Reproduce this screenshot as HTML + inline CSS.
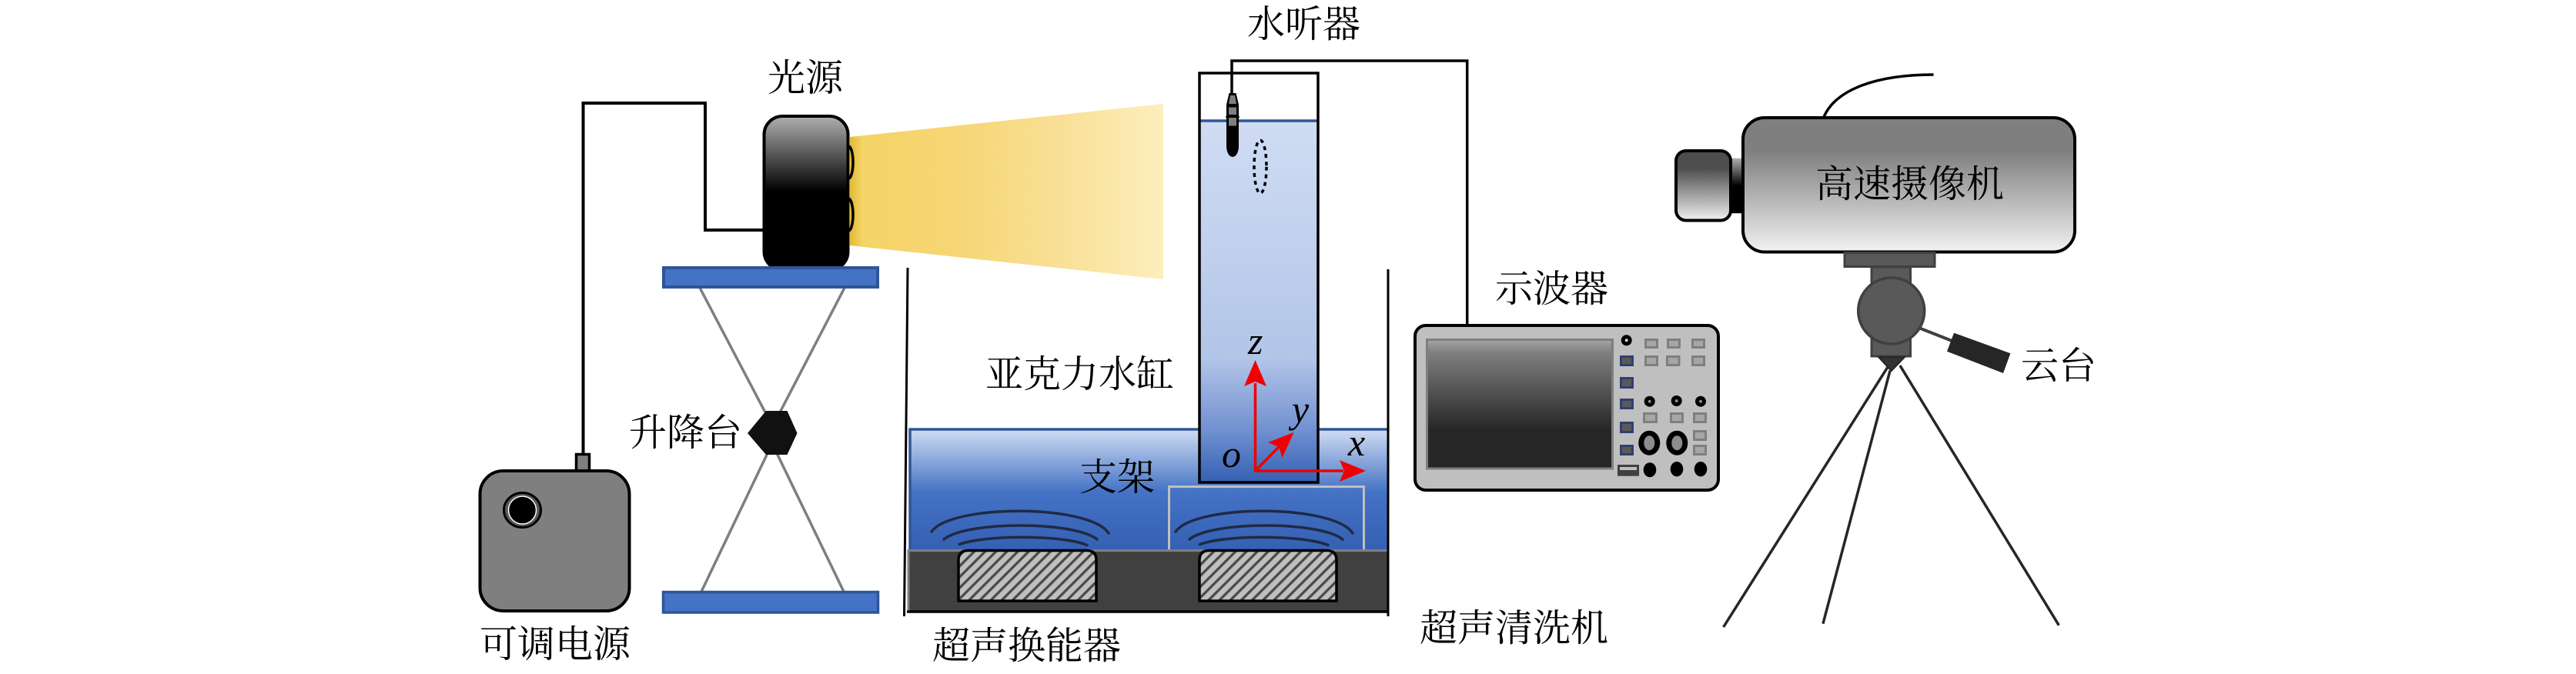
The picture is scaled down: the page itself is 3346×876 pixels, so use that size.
<!DOCTYPE html>
<html lang="zh"><head><meta charset="utf-8"><title>实验装置示意图</title>
<style>
html,body{margin:0;padding:0;background:#fff}
svg{display:block}
text{font-family:"Liberation Serif","Noto Serif CJK SC",serif;font-size:49px;fill:#000}
.m{font-style:italic;font-size:50px}
</style></head><body>
<svg width="3346" height="876" viewBox="0 0 3346 876" xmlns="http://www.w3.org/2000/svg">
<defs>
<linearGradient id="cone" x1="0" x2="1" y1="0" y2="0"><stop offset="0" stop-color="#e2b934"/><stop offset=".04" stop-color="#f5d468"/><stop offset=".35" stop-color="#f6d674"/><stop offset=".7" stop-color="#f9e19a"/><stop offset="1" stop-color="#fdeebc"/></linearGradient>
<linearGradient id="lamp" x1="0" x2="0" y1="0" y2="1"><stop offset="0" stop-color="#b0b0b0"/><stop offset=".49" stop-color="#000"/><stop offset="1" stop-color="#000"/></linearGradient>
<linearGradient id="water" x1="0" x2="0" y1="0" y2="1"><stop offset="0" stop-color="#d0dcf3"/><stop offset=".52" stop-color="#4472c4"/><stop offset="1" stop-color="#3560b3"/></linearGradient>
<linearGradient id="tube" x1="0" x2="0" y1="0" y2="1"><stop offset="0" stop-color="#d0dcf3"/><stop offset=".66" stop-color="#b2c5e8"/><stop offset=".86" stop-color="#6f8fd0"/><stop offset="1" stop-color="#3560b3"/></linearGradient>
<linearGradient id="screen" x1="0" x2="0" y1="0" y2="1"><stop offset="0" stop-color="#a6a6a6"/><stop offset=".1" stop-color="#7f7f7f"/><stop offset=".7" stop-color="#262626"/><stop offset="1" stop-color="#262626"/></linearGradient>
<linearGradient id="cam" x1="0" x2="0" y1="0" y2="1"><stop offset="0" stop-color="#7f7f7f"/><stop offset=".25" stop-color="#7f7f7f"/><stop offset="1" stop-color="#f2f2f2"/></linearGradient>
<linearGradient id="lens" x1="0" x2="0" y1="0" y2="1"><stop offset="0" stop-color="#4d4d4d"/><stop offset=".25" stop-color="#4d4d4d"/><stop offset="1" stop-color="#f0f0f0"/></linearGradient>
<linearGradient id="neck" x1="0" x2="0" y1="0" y2="1"><stop offset="0" stop-color="#b0b0b0"/><stop offset=".5" stop-color="#000"/><stop offset="1" stop-color="#000"/></linearGradient>
<pattern id="hatch" width="10" height="10" patternUnits="userSpaceOnUse" patternTransform="rotate(45)"><rect width="10" height="10" fill="#bfbfbf"/><rect width="3.3" height="10" fill="#4a4a4a"/></pattern>
</defs>

<!-- light cone -->
<polygon points="1104,178 1511,135 1511,363 1104,319" fill="url(#cone)"/>

<!-- power wire -->
<polyline points="757.5,590 757.5,134 916,134 916,299 992,299" fill="none" stroke="#000" stroke-width="4"/>

<!-- lamp -->
<ellipse cx="1102" cy="211" rx="6" ry="21" fill="none" stroke="#000" stroke-width="3.5"/>
<ellipse cx="1102" cy="279" rx="6" ry="21" fill="none" stroke="#000" stroke-width="3.5"/>
<rect x="992.5" y="151" width="109" height="200" rx="24" fill="url(#lamp)" stroke="#000" stroke-width="4"/>

<!-- lift -->
<g stroke="#7f7f7f" stroke-width="3.5" fill="none">
<line x1="909" y1="374" x2="994" y2="536"/><line x1="1097" y1="374" x2="1013" y2="536"/>
<line x1="997" y1="589" x2="911" y2="769"/><line x1="1009" y1="589" x2="1096" y2="769"/>
</g>
<rect x="862" y="348" width="278" height="25" fill="#4472c4" stroke="#2f5597" stroke-width="4"/>
<rect x="861.5" y="769.5" width="279" height="26.5" fill="#4472c4" stroke="#2f5597" stroke-width="3.5"/>
<polygon points="971,563 995,534 1022.5,534 1035.5,563 1022.5,591 995,591" fill="#111"/>

<!-- power supply -->
<rect x="748.5" y="590.5" width="17" height="22" fill="#7f7f7f" stroke="#000" stroke-width="3.5"/>
<rect x="623.5" y="612" width="194" height="182" rx="30" fill="#7f7f7f" stroke="#000" stroke-width="4"/>
<ellipse cx="678.5" cy="663" rx="24" ry="22.5" fill="#595959" stroke="#000" stroke-width="3"/>
<ellipse cx="678.5" cy="663" rx="18" ry="18" fill="#000" stroke="#fff" stroke-width="1.5"/>

<!-- ultrasonic bath -->
<rect x="1182" y="558" width="621" height="157" fill="url(#water)"/>
<polyline points="1182,716 1182,558 1803,558" fill="none" stroke="#2f5597" stroke-width="3.5"/>
<rect x="1518.5" y="632.5" width="253" height="85" fill="none" stroke="#bfbfbf" stroke-width="3"/>
<rect x="1180" y="715.5" width="623" height="78.5" fill="#404040"/>
<polyline points="1180,794 1180,715.5 1803,715.5" fill="none" stroke="#7f7f7f" stroke-width="3"/>
<line x1="1178" y1="795" x2="1803" y2="795" stroke="#000" stroke-width="3.5"/>
<path d="M1245,781 V728 Q1245,715.5 1258,715.5 H1411 Q1424,715.5 1424,728 V781 Z" fill="url(#hatch)" stroke="#000" stroke-width="3.5"/>
<path d="M1558,781 V728 Q1558,715.5 1571,715.5 H1723 Q1736,715.5 1736,728 V781 Z" fill="url(#hatch)" stroke="#000" stroke-width="3.5"/>
<g fill="none" stroke="#1f2a44" stroke-width="3.5" stroke-linecap="round">
<path d="M1210,691 C1235,655 1415,655 1440,693"/>
<path d="M1226,701 C1255,677 1395,677 1425,701"/>
<path d="M1246,707.5 C1280,695 1380,695 1412,708.5"/>
<path d="M1527,691 C1552,655 1732,655 1757,693"/>
<path d="M1545,701 C1574,677 1714,677 1744,701"/>
<path d="M1558.5,707.5 C1592,695 1692,695 1725,708.5"/>
</g>
<line x1="1179" y1="348" x2="1174.5" y2="801" stroke="#000" stroke-width="3"/>
<line x1="1803" y1="350" x2="1803" y2="801" stroke="#000" stroke-width="3"/>

<!-- tank -->
<rect x="1557" y="157" width="155" height="470" fill="url(#tube)"/>
<line x1="1557" y1="157" x2="1712" y2="157" stroke="#2f5597" stroke-width="3.5"/>
<rect x="1558" y="95" width="154" height="532" fill="none" stroke="#000" stroke-width="3.5"/>

<!-- hydrophone wire -->
<polyline points="1600,121 1600,79 1905.7,79 1905.7,423" fill="none" stroke="#000" stroke-width="3.5"/>
<path d="M1596.5,121 H1605.5 L1609,136 V190 A8,14 0 0 1 1593,190 V136 Z" fill="#000"/>
<polygon points="1598,124 1604,124 1606,135 1596,135" fill="#7f7f7f"/>
<rect x="1596" y="139.5" width="10" height="9.5" fill="#7f7f7f"/>
<rect x="1596" y="153" width="10" height="10.5" fill="#7f7f7f"/>
<line x1="1592" y1="152" x2="1610" y2="152" stroke="#000" stroke-width="1.5"/>
<ellipse cx="1637" cy="216.7" rx="8" ry="34.5" fill="none" stroke="#000" stroke-width="3.5" stroke-dasharray="5 5"/>

<!-- axes -->
<g stroke="#ee0000" stroke-width="3.5" fill="none">
<polyline points="1630.5,498 1630.5,612 1745,612"/>
<line x1="1630.5" y1="612" x2="1662" y2="580"/>
</g>
<g fill="#f00000">
<polygon points="1630.5,468 1645,502 1630.5,496 1616,502"/>
<polygon points="1774,612 1740,598 1746,612 1740,626"/>
<polygon points="1680.5,562 1665.6,595 1661,581 1647,575"/>
</g>
<text class="m" x="1621" y="460">z</text>
<text class="m" x="1678" y="549">y</text>
<text class="m" x="1751" y="592">x</text>
<text class="m" x="1587" y="607">o</text>

<!-- oscilloscope -->
<rect x="1838" y="423" width="394" height="214" rx="14" fill="#bfbfbf" stroke="#000" stroke-width="4"/>
<rect x="1853.5" y="441.5" width="241" height="167.5" fill="url(#screen)" stroke="#7f7f7f" stroke-width="3"/>
<g fill="#a6a6a6" stroke="#7f7f7f" stroke-width="3">
<rect x="2137.5" y="441.5" width="15" height="10"/><rect x="2166.5" y="441.5" width="15" height="10"/><rect x="2198.5" y="441.5" width="15" height="10"/>
<rect x="2137.5" y="463.5" width="15" height="11"/><rect x="2165.5" y="463.5" width="15.5" height="11"/><rect x="2198.5" y="463.5" width="15" height="11"/>
<rect x="2135.5" y="537.5" width="16" height="11"/><rect x="2170.5" y="537.5" width="15" height="11"/><rect x="2200.5" y="537.5" width="15" height="11"/>
<rect x="2200.5" y="560.5" width="15" height="11"/><rect x="2200.5" y="579.5" width="15" height="11"/>
</g>
<g fill="#595959" stroke="#2f3f73" stroke-width="3">
<rect x="2105.5" y="463.5" width="15" height="11"/><rect x="2105.5" y="491.5" width="15" height="12"/><rect x="2105.5" y="519.5" width="15" height="11"/><rect x="2105.5" y="549.5" width="15" height="12"/><rect x="2105.5" y="579.5" width="15" height="11"/>
</g>
<circle cx="2112.7" cy="442.3" r="7" fill="#000"/><circle cx="2112.7" cy="442.3" r="2" fill="#cdd5ee"/>
<circle cx="2142.7" cy="521.7" r="7" fill="#000"/><circle cx="2142.7" cy="521.7" r="2" fill="#8c8c8c"/>
<circle cx="2177.7" cy="521" r="7" fill="#000"/><circle cx="2177.7" cy="521" r="2" fill="#8c8c8c"/>
<circle cx="2209" cy="521.7" r="7" fill="#000"/><circle cx="2209" cy="521.7" r="2" fill="#8c8c8c"/>
<ellipse cx="2142.3" cy="575.7" rx="14" ry="16" fill="#000"/><ellipse cx="2142.3" cy="575.7" rx="7" ry="9.5" fill="#8c8c8c"/>
<ellipse cx="2178.3" cy="575.7" rx="14" ry="16" fill="#000"/><ellipse cx="2178.3" cy="575.7" rx="7" ry="9.5" fill="#8c8c8c"/>
<rect x="2101" y="604" width="28" height="14.7" fill="#404040"/><rect x="2104" y="607" width="22" height="4" fill="#bfbfbf"/>
<ellipse cx="2143" cy="610.7" rx="8.3" ry="9.5" fill="#000"/><ellipse cx="2178" cy="609.7" rx="8.3" ry="9.7" fill="#000"/><ellipse cx="2209" cy="609.7" rx="8.3" ry="9.7" fill="#000"/>

<!-- camera -->
<path d="M2369,152 C2385,115 2440,97 2511.5,97" fill="none" stroke="#000" stroke-width="3.5"/>
<rect x="2249" y="205.7" width="16" height="71.5" fill="url(#neck)"/>
<rect x="2177" y="196" width="71" height="90.5" rx="13" fill="url(#lens)" stroke="#000" stroke-width="4"/>
<rect x="2264" y="153" width="431" height="174.5" rx="28" fill="url(#cam)" stroke="#000" stroke-width="4"/>
<g stroke="#404040" fill="#595959">
<rect x="2431" y="347" width="50.5" height="116" stroke-width="3"/>
<rect x="2396" y="328.5" width="117" height="18" stroke-width="3"/>
<circle cx="2456.7" cy="404" r="43" stroke-width="3.5"/>
</g>
<polygon points="2440,464 2474,464 2456.7,482" fill="#333" stroke="#262626" stroke-width="2"/>
<line x1="2494.8" y1="427" x2="2535.5" y2="443" stroke="#404040" stroke-width="4"/>
<polygon points="2538,432.7 2611.4,459.3 2602,485 2529,456.7" fill="#262626"/>
<g stroke="#262626" stroke-width="3.5">
<line x1="2451.8" y1="477.3" x2="2238.6" y2="815"/>
<line x1="2455" y1="481.7" x2="2367.9" y2="810.7"/>
<line x1="2467.9" y1="475" x2="2674.3" y2="812.7"/>
</g>

<!-- labels -->
<text x="997" y="118">光源</text>
<text x="1620" y="48">水听器</text>
<text x="1942" y="392">示波器</text>
<text x="1280" y="503">亚克力水缸</text>
<text x="817" y="579">升降台</text>
<text x="1402" y="637">支架</text>
<text x="623" y="854">可调电源</text>
<text x="1211" y="856">超声换能器</text>
<text x="1844" y="833">超声清洗机</text>
<text x="2358" y="256">高速摄像机</text>
<text x="2625" y="492">云台</text>
</svg>
</body></html>
